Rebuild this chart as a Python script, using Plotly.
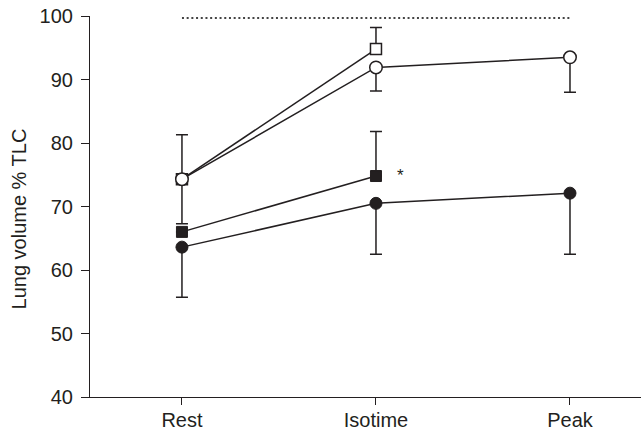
import plotly.graph_objects as go

categories = ["Rest", "Isotime", "Peak"]

# Open square series (two time points)
open_sq_x = ["Rest", "Isotime"]
open_sq_y = [74.3, 94.8]
open_sq_err_up = [0, 3.4]
open_sq_err_dn = [0, 0]

# Open circle series
open_ci_y = [74.3, 91.9, 93.5]
open_ci_err_up = [7.0, 0, 0]
open_ci_err_dn = [7.0, 3.7, 5.5]

# Filled square series (two time points)
fill_sq_x = ["Rest", "Isotime"]
fill_sq_y = [66.0, 74.8]
fill_sq_err_up = [0, 7.0]
fill_sq_err_dn = [0, 0]

# Filled circle series
fill_ci_y = [63.6, 70.5, 72.1]
fill_ci_err_up = [0, 0, 0]
fill_ci_err_dn = [7.9, 8.0, 9.6]

ref_x = ["Rest", "Peak"]
ref_y = [99.7, 99.7]

y_ticks = [40, 50, 60, 70, 80, 90, 100]
y_title = "Lung volume % TLC"

INK = "#231f20"
LW = 1.5
FONT = "Liberation Sans, Arial, sans-serif"

def err(up, dn):
    return dict(type="data", symmetric=False, array=up, arrayminus=dn,
                color=INK, thickness=LW, width=6)

fig = go.Figure()

fig.add_trace(go.Scatter(x=ref_x, y=ref_y, mode="lines",
                         line=dict(color="#444", width=2, dash="2px,2.7px"),
                         hoverinfo="skip"))

fig.add_trace(go.Scatter(x=categories, y=fill_ci_y, mode="lines+markers",
                         line=dict(color=INK, width=LW),
                         marker=dict(symbol="circle", size=12, color=INK,
                                     line=dict(color=INK, width=1)),
                         error_y=err(fill_ci_err_up, fill_ci_err_dn)))

fig.add_trace(go.Scatter(x=fill_sq_x, y=fill_sq_y, mode="lines+markers",
                         line=dict(color=INK, width=LW),
                         marker=dict(symbol="square", size=11, color=INK,
                                     line=dict(color=INK, width=1)),
                         error_y=err(fill_sq_err_up, fill_sq_err_dn)))

fig.add_trace(go.Scatter(x=open_sq_x, y=open_sq_y, mode="lines+markers",
                         line=dict(color=INK, width=LW),
                         marker=dict(symbol="square", size=11, color="white",
                                     line=dict(color=INK, width=1.5)),
                         error_y=err(open_sq_err_up, open_sq_err_dn)))

fig.add_trace(go.Scatter(x=categories, y=open_ci_y, mode="lines+markers",
                         line=dict(color=INK, width=LW),
                         marker=dict(symbol="circle", size=12.5, color="white",
                                     line=dict(color=INK, width=1.5)),
                         error_y=err(open_ci_err_up, open_ci_err_dn)))

fig.add_annotation(x="Isotime", y=fill_sq_y[1], text="*", showarrow=False,
                   xshift=25, yshift=1,
                   font=dict(family=FONT, size=17, color=INK))

fig.add_annotation(xref="paper", yref="paper", x=0, y=0.466, text=y_title,
                   textangle=-90, showarrow=False, xanchor="center",
                   yanchor="middle", xshift=-71,
                   font=dict(family=FONT, size=20, color=INK))

fig.update_layout(
    width=641, height=432,
    margin=dict(l=90, r=0, t=16, b=35, autoexpand=False),
    paper_bgcolor="white", plot_bgcolor="white",
    showlegend=False,
    font=dict(family=FONT, size=20, color=INK),
    xaxis=dict(type="category", categoryorder="array", categoryarray=categories,
               range=[-0.474, 2.366], showline=True, linecolor=INK, linewidth=1.2,
               ticks="outside", ticklen=7, tickwidth=1.2, tickcolor=INK,
               showgrid=False, zeroline=False, automargin=False,
               ticklabelstandoff=-2, ticklabeloverflow="allow",
               tickfont=dict(size=20, color=INK)),
    yaxis=dict(range=[40, 100], tickvals=y_ticks, showline=True, linecolor=INK,
               linewidth=1.2, ticks="outside", ticklen=8, tickwidth=1.2,
               tickcolor=INK, showgrid=False, zeroline=False, automargin=False,
               ticklabelstandoff=4, ticklabeloverflow="allow",
               tickfont=dict(size=20, color=INK)),
)

fig.write_html("out.html",
               config={"displayModeBar": False},
               post_script="document.body.style.margin='0';")
